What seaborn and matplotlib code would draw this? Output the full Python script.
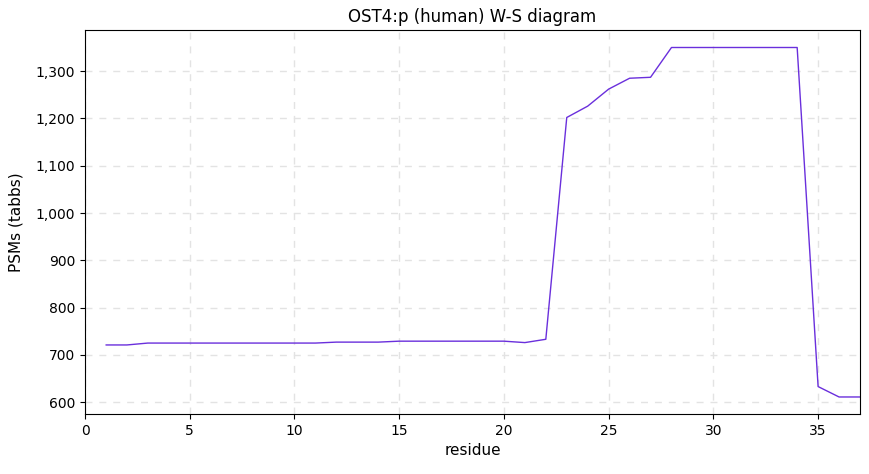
import matplotlib
matplotlib.use("Agg")
import matplotlib.pyplot as plt
import matplotlib.ticker as mticker
import seaborn as sns
import pandas as pd

residue = list(range(1, 38))
psms = [721, 721, 725, 725, 725, 725, 725, 725, 725, 725, 725, 727, 727, 727,
        729, 729, 729, 729, 729, 729, 726, 733, 1202, 1226, 1262, 1285, 1287,
        1350, 1350, 1350, 1350, 1350, 1350, 1350, 633, 611, 611]

df = pd.DataFrame({"residue": residue, "psms": psms})

sns.set_style("ticks", {"text.color": "black", "axes.labelcolor": "black",
                        "xtick.color": "black", "ytick.color": "black",
                        "axes.edgecolor": "black"})
plt.rcParams['font.family'] = ['DejaVu Sans']
fig = plt.figure(figsize=(8.69, 4.74), dpi=100)
ax = fig.add_axes([85/869, 1-414/474, 775/869, 384/474])
sns.lineplot(data=df, x="residue", y="psms", ax=ax, color="#6a2fdc", linewidth=1)
ax.set_xlim(0, 37)
ax.set_ylim(575, 1387)
ax.grid(True, linestyle=(0, (5, 5)), color="#e3e3e3", linewidth=1)
ax.set_axisbelow(True)
ax.yaxis.set_major_formatter(mticker.FuncFormatter(lambda v, p: f"{int(v):,}"))
ax.tick_params(colors="black", labelsize=10)
ax.set_xlabel("residue", fontsize=11, color="black")
ax.set_ylabel("PSMs (tabbs)", fontsize=11, color="black", labelpad=9)
ax.set_title("OST4:p (human) W-S diagram", fontsize=12, color="black")
for s in ax.spines.values():
    s.set_visible(True)
    s.set_color("black")
fig.savefig("out.png", dpi=100)
